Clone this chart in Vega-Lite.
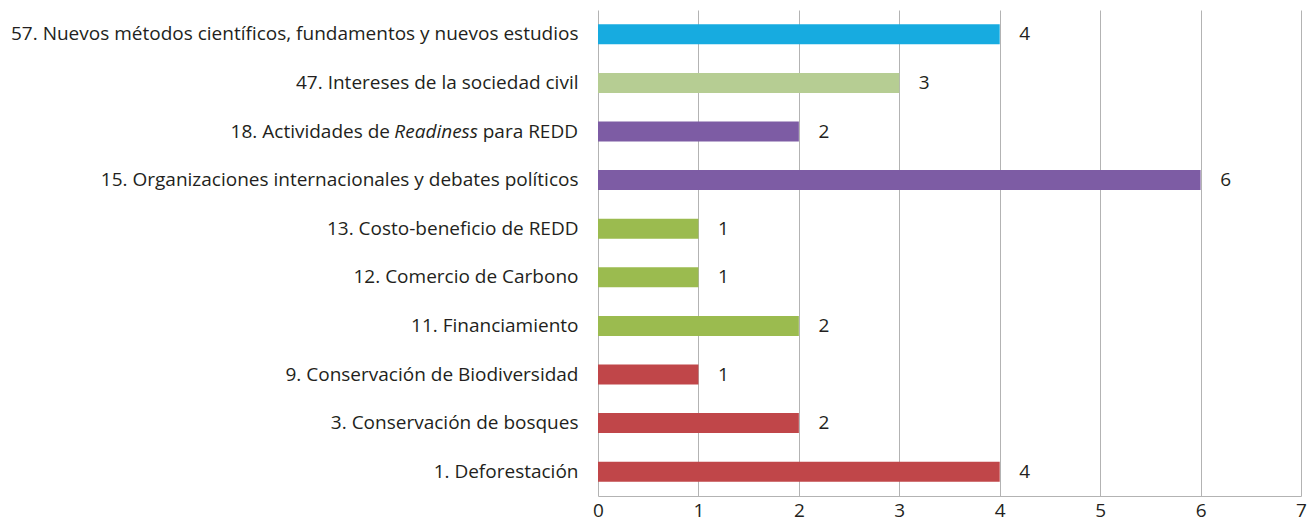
{
  "$schema": "https://vega.github.io/schema/vega-lite/v6.json",
  "autosize": {"type": "none"},
  "width": 703,
  "height": 486,
  "padding": {"left": 598, "top": 10, "right": 10, "bottom": 26},
  "background": "white",
  "config": {
    "view": {"stroke": null},
    "font": "Open Sans",
    "axis": {"labelFont": "Open Sans", "labelFontSize": 19, "labelColor": "#231f20"}
  },
  "data": {
    "values": [
      {"tema": "57. Nuevos métodos científicos, fundamentos y nuevos estudios", "valor": 4, "grupo": "a"},
      {"tema": "47. Intereses de la sociedad civil", "valor": 3, "grupo": "b"},
      {"tema": "18. Actividades de Readiness para REDD", "valor": 2, "grupo": "c"},
      {"tema": "15. Organizaciones internacionales y debates políticos", "valor": 6, "grupo": "c"},
      {"tema": "13. Costo-beneficio de REDD", "valor": 1, "grupo": "d"},
      {"tema": "12. Comercio de Carbono", "valor": 1, "grupo": "d"},
      {"tema": "11. Financiamiento", "valor": 2, "grupo": "d"},
      {"tema": "9. Conservación de Biodiversidad", "valor": 1, "grupo": "e"},
      {"tema": "3. Conservación de bosques", "valor": 2, "grupo": "e"},
      {"tema": "1. Deforestación", "valor": 4, "grupo": "e"}
    ]
  },
  "encoding": {
    "y": {
      "field": "tema", "type": "nominal", "sort": null,
      "scale": {"paddingInner": 0, "paddingOuter": 0},
      "axis": {"title": null, "domain": false, "ticks": false, "labelPadding": 20, "labelLimit": 700, "labelFontSize": 19,
        "labelExpr": "indexof(datum.value, 'Readiness') >= 0 ? '' : datum.value"}
    },
    "x": {
      "field": "valor", "type": "quantitative",
      "scale": {"domain": [0, 7], "nice": false},
      "axis": {"title": null, "values": [0,1,2,3,4,5,6,7], "grid": true, "gridColor": "#b3b3b3", "gridWidth": 1, "domainColor": "#b3b3b3", "ticks": false, "labelPadding": 5, "labelFontSize": 19, "labelFlush": false}
    }
  },
  "layer": [
    {
      "mark": {"type": "bar", "size": 20},
      "encoding": {
        "color": {
          "field": "grupo", "type": "nominal", "legend": null,
          "scale": {"domain": ["a","b","c","d","e"], "range": ["#17abe0", "#b6cd93", "#7d5ca4", "#9bbb4f", "#c04649"]}
        }
      }
    },
    {
      "mark": {"type": "text", "align": "center", "baseline": "middle", "dx": 25, "fontSize": 19, "color": "#231f20", "font": "Open Sans"},
      "encoding": {"text": {"field": "valor", "type": "quantitative"}}
    },
    {
      "transform": [{"filter": "indexof(datum.tema, 'Readiness') >= 0"}],
      "mark": {"type": "text", "align": "right", "baseline": "middle", "dx": -20, "fontSize": 19, "color": "#231f20", "font": "Open Sans"},
      "encoding": {"x": {"datum": 0, "type": "quantitative"}, "text": {"value": "para REDD"}}
    },
    {
      "transform": [{"filter": "indexof(datum.tema, 'Readiness') >= 0"}],
      "mark": {"type": "text", "align": "right", "baseline": "middle", "dx": -120, "fontSize": 19, "fontStyle": "italic", "color": "#231f20", "font": "Open Sans"},
      "encoding": {"x": {"datum": 0, "type": "quantitative"}, "text": {"value": "Readiness"}}
    },
    {
      "transform": [{"filter": "indexof(datum.tema, 'Readiness') >= 0"}],
      "mark": {"type": "text", "align": "right", "baseline": "middle", "dx": -208, "fontSize": 19, "color": "#231f20", "font": "Open Sans"},
      "encoding": {"x": {"datum": 0, "type": "quantitative"}, "text": {"value": "18. Actividades de"}}
    }
  ]
}
